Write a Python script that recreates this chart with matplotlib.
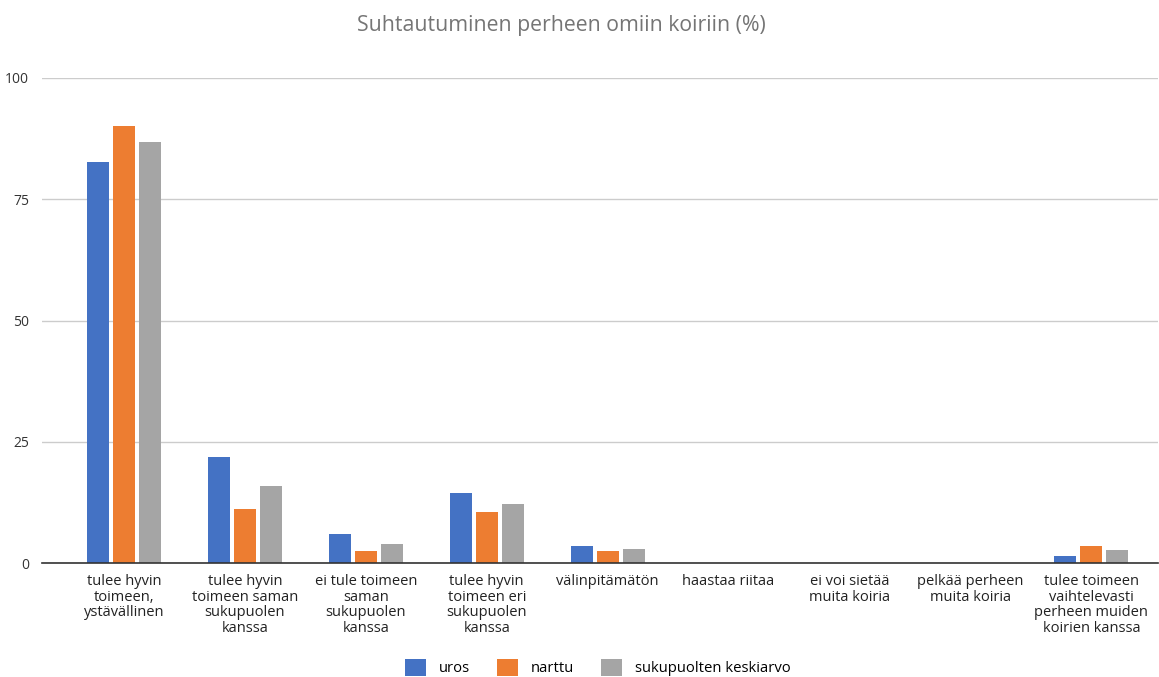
import matplotlib

matplotlib.use("Agg")
import matplotlib.pyplot as plt
import numpy as np

plt.rcParams["font.family"] = ["Open Sans", "DejaVu Sans"]

categories = [
    "tulee hyvin\ntoimeen,\nystävällinen",
    "tulee hyvin\ntoimeen saman\nsukupuolen\nkanssa",
    "ei tule toimeen\nsaman\nsukupuolen\nkanssa",
    "tulee hyvin\ntoimeen eri\nsukupuolen\nkanssa",
    "välinpitämätön",
    "haastaa riitaa",
    "ei voi sietää\nmuita koiria",
    "pelkää perheen\nmuita koiria",
    "tulee toimeen\nvaihtelevasti\nperheen muiden\nkoirien kanssa",
]
uros = [82.7, 21.9, 6.1, 14.4, 3.6, 0, 0, 0, 1.4]
narttu = [90.1, 11.1, 2.5, 10.5, 2.5, 0, 0, 0, 3.6]
keskiarvo = [86.8, 15.9, 4.0, 12.2, 2.9, 0, 0, 0, 2.8]

series = [
    ("uros", uros, "#4472c4"),
    ("narttu", narttu, "#ed7d31"),
    ("sukupuolten keskiarvo", keskiarvo, "#a5a5a5"),
]

fig = plt.figure(figsize=(11.59, 6.77), dpi=100)
ax = fig.add_axes([0.036, 0.168, 0.963, 0.717])

x = np.arange(len(categories))
width = 0.18
step = 0.215
for i, (name, values, color) in enumerate(series):
    ax.bar(x + (i - 1) * step, values, width=width, color=color, label=name, zorder=3)

ax.set_ylim(0, 100)
ax.set_xlim(-0.68, 8.55)
ax.set_yticks([0, 25, 50, 75, 100])
ax.set_xticks(x)
ax.set_xticklabels(categories, fontsize=10.5, color="#222222", linespacing=1.05)
ax.tick_params(axis="y", length=0, labelsize=10, labelcolor="#333333", pad=9)
ax.tick_params(axis="x", length=0, pad=8)
ax.grid(axis="y", color="#cccccc", linewidth=1, zorder=0)
for spine in ["top", "right", "left"]:
    ax.spines[spine].set_visible(False)
ax.spines["bottom"].set_color("#333333")
ax.spines["bottom"].set_linewidth(1.2)
ax.spines["bottom"].set_zorder(4)

fig.text(0.484, 0.962, "Suhtautuminen perheen omiin koiriin (%)", ha="center", va="center",
         fontsize=15.3, color="#757575")

fig.legend(loc="center", bbox_to_anchor=(0.516, 0.014), ncol=3, frameon=False, fontsize=10.7,
           handlelength=1.4, handleheight=1.4, columnspacing=1.8, handletextpad=0.9)

fig.savefig("out.png", dpi=100)
